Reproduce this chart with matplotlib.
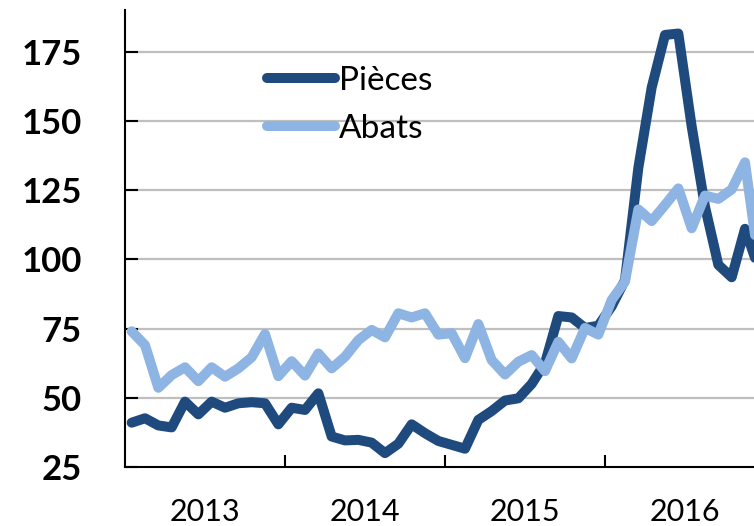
import numpy as np
import matplotlib.pyplot as plt
from matplotlib.ticker import FixedLocator, NullFormatter



# [Data]______________________________________________________________________________________________________

years = ["2013", "2014", "2015", "2016"]
months = np.arange(48)  # Jan 2013 -> Dec 2016

pieces = [41, 42.6, 40, 39.3, 48.6, 44, 48.6, 46.4, 48, 48.4, 48, 40.4,
          46.4, 45.6, 51.6, 36, 34.6, 34.8, 33.8, 30, 33.4, 40.4, 37.2, 34.4,
          33, 31.6, 42, 45.2, 49, 49.8, 55, 62.5, 79.5, 79, 75.2, 76,
          83, 92.5, 133, 162, 181, 181.5, 148, 119, 98, 93.5, 111, 97]

abats = [74, 69, 53.6, 58.2, 61, 56, 61, 57.6, 60.6, 64.6, 73, 57.8,
         63.2, 58, 66, 60.6, 64.8, 70.8, 74.5, 71.8, 80.5, 79, 80.5, 72.8,
         73.3, 64.3, 76.6, 63.6, 58.4, 63, 65.4, 59.6, 70.2, 64.2, 75.2, 72.8,
         85.3, 92, 118, 113.8, 119.6, 125.6, 111.2, 123, 121.8, 125.2, 135, 100]

yticks = [25, 50, 75, 100, 125, 150, 175]

# [Plot]______________________________________________________________________________________________________

plt.rcParams['font.family'] = ['Lato', 'DejaVu Sans']

fig = plt.figure(figsize=(7.54, 5.26), dpi=100)
ax = fig.add_axes([125 / 754, 59 / 526, 629 / 754, 457 / 526])

dark = "#1F4A7E"
light = "#8DB4E2"
ax.plot(months, pieces, color=dark, lw=7.2, solid_joinstyle="round", solid_capstyle="round", label="Pièces", zorder=3)
ax.plot(months, abats, color=light, lw=7.2, solid_joinstyle="round", solid_capstyle="round", label="Abats", zorder=4)

ax.set_xlim(-0.5, -0.5 + 629 / (160 / 12))
ax.set_ylim(25, 190)

for v in yticks[1:]:
    ax.axhline(v, color="#BFBFBF", lw=1.6, zorder=1)

ax.set_yticks(yticks)
ax.set_yticklabels([str(v) for v in yticks], fontsize=25, fontweight="bold")
ax.tick_params(axis="y", direction="in", length=9, width=1.5, pad=31)

ax.xaxis.set_major_locator(FixedLocator([11.5, 23.5, 35.5]))
ax.xaxis.set_major_formatter(NullFormatter())
ax.xaxis.set_minor_locator(FixedLocator([5.5, 17.5, 29.5, 41.5]))
ax.set_xticklabels(years, minor=True, fontsize=22)
ax.tick_params(axis="x", which="major", direction="in", length=9, width=1.5)
ax.tick_params(axis="x", which="minor", length=0, pad=22)

for s in ["top", "right"]:
    ax.spines[s].set_visible(False)
for s in ["left", "bottom"]:
    ax.spines[s].set_linewidth(1.5)

leg = ax.legend(loc="upper left", bbox_to_anchor=(267 / 754, 1 - 66 / 526), bbox_transform=fig.transFigure,
                frameon=False, fontsize=24, handlelength=2.05, handletextpad=0.12, labelspacing=0.54,
                borderaxespad=0, borderpad=0)

plt.savefig("out.png", dpi=100)
